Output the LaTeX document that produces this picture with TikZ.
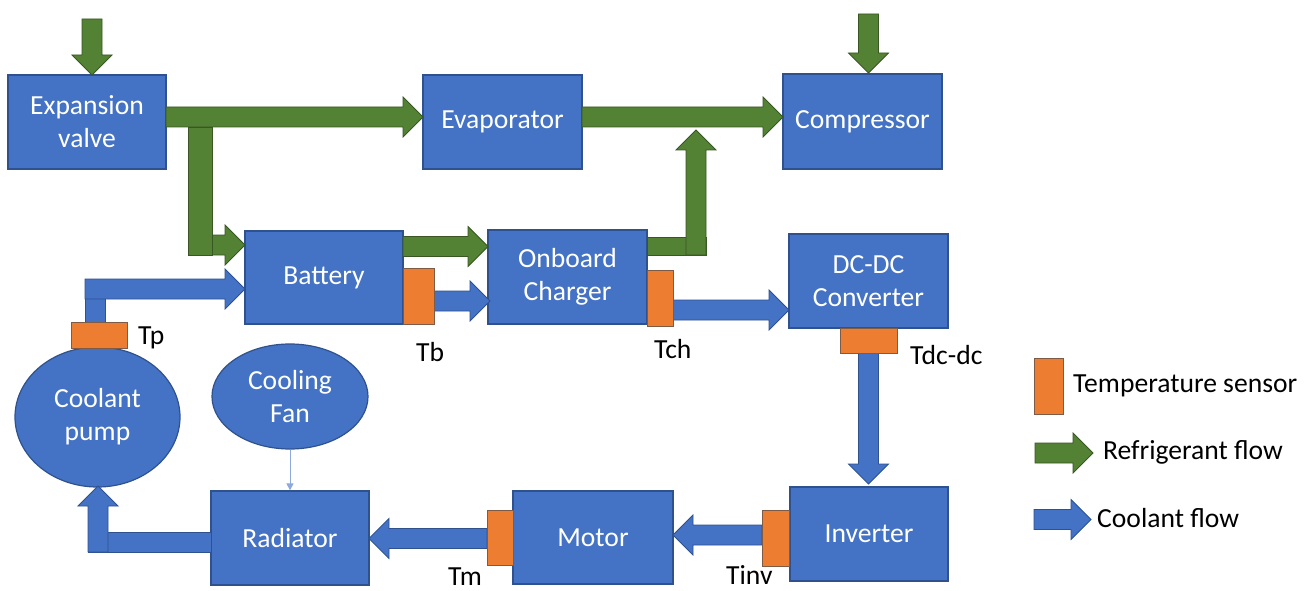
\documentclass[tikz,border=0pt]{standalone}
\usepackage{fontspec}
\setmainfont{Carlito}
\usetikzlibrary{arrows.meta,shapes.geometric}
\definecolor{boxblue}{HTML}{4472C4}
\definecolor{boxedge}{HTML}{2F528F}
\definecolor{refgreen}{HTML}{548235}
\definecolor{greenedge}{HTML}{385723}
\definecolor{sensorfill}{HTML}{ED7D31}
\definecolor{sensoredge}{HTML}{7F5A45}
\definecolor{fanline}{HTML}{8EA9DB}
% block arrows (pixel coordinates, y downwards)
\newcommand{\arrR}[4]{\draw[#1] (#2,#4-10) -- (#3-20,#4-10) -- (#3-20,#4-20) -- (#3,#4) -- (#3-20,#4+20) -- (#3-20,#4+10) -- (#2,#4+10) -- cycle;}
\newcommand{\arrL}[4]{\draw[#1] (#2,#4-10) -- (#3+20,#4-10) -- (#3+20,#4-20) -- (#3,#4) -- (#3+20,#4+20) -- (#3+20,#4+10) -- (#2,#4+10) -- cycle;}
\newcommand{\arrD}[4]{\draw[#1] (#4-10,#2) -- (#4-10,#3-20) -- (#4-20,#3-20) -- (#4,#3) -- (#4+20,#3-20) -- (#4+10,#3-20) -- (#4+10,#2) -- cycle;}
\newcommand{\arrU}[4]{\draw[#1] (#4-10,#2) -- (#4-10,#3+20) -- (#4-20,#3+20) -- (#4,#3) -- (#4+20,#3+20) -- (#4+10,#3+20) -- (#4+10,#2) -- cycle;}
\tikzset{
  blk/.style={draw=boxedge, fill=boxblue, line width=1.2pt, text=white,
    font=\fontsize{27.6}{33}\selectfont, align=center, inner sep=0pt, rectangle},
  oval/.style={blk, ellipse},
  sensor/.style={draw=sensoredge, fill=sensorfill, line width=1pt, inner sep=0pt, rectangle},
  lbl/.style={font=\fontsize{27.6}{33}\selectfont, text=black, inner sep=0pt},
  garrow/.style={fill=refgreen, draw=greenedge, line width=0.8pt},
  barrow/.style={fill=boxblue, draw=boxedge, line width=0.8pt},
}
\begin{document}
\begin{tikzpicture}[x=1pt, y=-1pt]
\useasboundingbox (0,0) rectangle (1312,591);
\fill[white] (0,0) rectangle (1312,591);

% ---- boxes
\node[blk, minimum width=158pt, minimum height=94pt] (exp) at (87,122) {Expansion\\valve};
\node[blk, minimum width=159pt, minimum height=94pt] (evap) at (502.5,122) {Evaporator};
\node[blk, minimum width=159pt, minimum height=95pt] (comp) at (862.5,121.5) {Compressor};
\node[blk, minimum width=158pt, minimum height=93pt] (bat) at (324,277.5) {Battery};
\node[blk, minimum width=159pt, minimum height=94pt] (obc) at (567.5,277) {Onboard\\Charger};
\node[blk, minimum width=159pt, minimum height=94pt] (dcdc) at (868.5,281) {DC-DC\\Converter};
\node[blk, minimum width=158pt, minimum height=94pt] (inv) at (869,534) {Inverter};
\node[blk, minimum width=160pt, minimum height=93pt] (mot) at (593,537.5) {Motor};
\node[blk, minimum width=158pt, minimum height=94pt] (rad) at (290,538) {Radiator};
\node[oval, minimum width=165pt, minimum height=140pt] (pump) at (97.5,417) {Coolant\\pump};
\node[oval, minimum width=156pt, minimum height=105pt] (fan) at (290,396.5) {Cooling\\Fan};

% ---- refrigerant flow (green)
\arrD{garrow}{19}{75}{92}
\arrD{garrow}{14}{73}{868.5}
\arrR{garrow}{166}{423}{117}
\arrR{garrow}{582}{783}{117}
\arrR{garrow}{212}{245}{245}
\draw[garrow] (188,127) rectangle (212,255);
\arrR{garrow}{403}{488}{246.5}
\draw[garrow] (647,237) rectangle (706,255);
\arrU{garrow}{255}{130}{696}

% ---- coolant flow (blue)
\draw[barrow] (85,289) rectangle (105,322);
\arrR{barrow}{85}{245}{289}
\arrR{barrow}{434}{490}{301}
\arrR{barrow}{673}{789}{310}
\arrD{barrow}{353}{484}{868.5}
\arrL{barrow}{762}{673}{535}
\arrL{barrow}{487}{369}{538.5}
\draw[barrow] (88,532) rectangle (211,552);
\arrU{barrow}{552}{486}{98}

\draw[fanline, line width=0.9pt, -{Triangle[width=7pt,length=7pt]}] (fan.south) -- (rad.north);

% ---- sensors
\node[sensor, minimum width=56pt, minimum height=26pt] (sTp) at (99,335) {};
\node[sensor, minimum width=31pt, minimum height=56pt] (sTb) at (418.5,296) {};
\node[sensor, minimum width=26pt, minimum height=56pt] (sTch) at (660,298) {};
\node[sensor, minimum width=57pt, minimum height=25pt] (sTdc) at (868.5,340.5) {};
\node[sensor, minimum width=27pt, minimum height=56pt] (sTinv) at (775.5,538) {};
\node[sensor, minimum width=26pt, minimum height=55pt] (sTm) at (500,537.5) {};

% ---- sensor labels
\node[lbl, anchor=base west] (lTp) at (138,344) {Tp};
\node[lbl, anchor=base west] (lTb) at (416,361) {Tb};
\node[lbl, anchor=base west] (lTch) at (654,358) {Tch};
\node[lbl, anchor=base west] (lTdc) at (910,364) {Tdc-dc};
\node[lbl, anchor=base west] (lTinv) at (726,584) {Tinv};
\node[lbl, anchor=base west] (lTm) at (448,585) {Tm};

% ---- legend
\node[sensor, minimum width=29pt, minimum height=56pt] (legS) at (1048.5,386) {};
\node[lbl, anchor=base west] (legSt) at (1073,392) {Temperature sensor};
\arrR{garrow}{1035}{1093}{453}
\node[lbl, anchor=base west] (legGt) at (1103,459) {Refrigerant flow};
\arrR{barrow}{1034}{1091}{519.5}
\node[lbl, anchor=base west] (legBt) at (1097,527) {Coolant flow};
\end{tikzpicture}
\end{document}
